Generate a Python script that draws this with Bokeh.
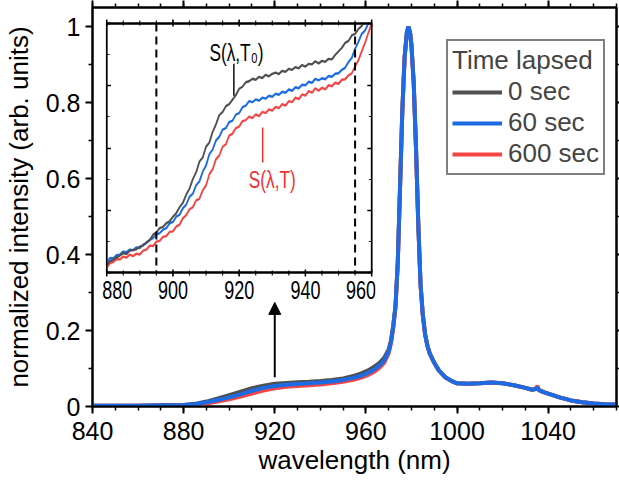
from bokeh.plotting import figure
from bokeh.models import (Range1d, LinearAxis, FixedTicker, Span, Arrow, NormalHead,
                          Legend, LegendItem, ColumnDataSource, CustomLabelingPolicy)
from bokeh.embed import file_html
from bokeh.resources import INLINE
from bokeh.core.properties import value

# ---------------- data ----------------
main_wl = [840, 850, 860, 870, 880, 885, 890, 895, 900, 905, 910, 915, 920, 925, 930,
           935, 940, 945, 950, 955, 958, 961, 964, 966, 968, 970, 971, 972, 973, 974,
           975, 976, 977, 978, 978.7, 979.5, 980, 981, 982, 983, 984, 985, 986, 987, 988,
           990, 992, 995, 998, 1000, 1005, 1010, 1015, 1020, 1025, 1030, 1033, 1034.5,
           1035.3, 1036, 1038, 1040, 1045, 1050, 1055, 1060, 1065, 1070]

main_0s = [.002, .002, .002, .003, .004, .007, .013, .021, .030, .039, .048, .055, .060, .062, .064,
           .065, .067, .070, .074, .081, .087, .095, .106, .115, .128, .150, .174, .213, .265, .380,
           .580, .780, .920, .985, 1.0, .980, .950, .850, .680, .480, .320, .240, .190, .160, .140,
           .115, .095, .076, .066, .061, .060, .061, .063, .061, .056, .049, .044, .046,
           .050, .043, .038, .034, .024, .016, .011, .008, .006, .005]

main_60s = [.002, .002, .002, .003, .004, .006, .011, .017, .024, .032, .041, .049, .054, .057, .059,
            .061, .063, .066, .070, .076, .081, .089, .099, .108, .121, .145, .170, .210, .265, .380,
            .580, .780, .920, .985, 1.0, .980, .950, .850, .680, .480, .320, .240, .190, .160, .140,
            .115, .095, .076, .066, .061, .060, .061, .063, .061, .056, .049, .044, .046,
            .050, .043, .038, .034, .024, .016, .011, .008, .006, .005]

main_600s = [.002, .002, .002, .003, .004, .004, .008, .013, .019, .026, .034, .042, .048, .052, .054,
             .056, .058, .061, .065, .071, .076, .083, .093, .102, .115, .140, .166, .206, .262, .378,
             .578, .778, .918, .984, 1.0, .980, .950, .850, .680, .480, .320, .240, .190, .160, .140,
             .115, .095, .076, .066, .061, .060, .061, .063, .061, .056, .049, .044, .047,
             .054, .043, .038, .034, .024, .016, .011, .008, .006, .005]

inset_wl = list(range(880, 961))

inset_0s = [.030, .046, .052, .061, .068, .078, .074, .088, .090, .093,
            .104, .108, .121, .130, .152, .161, .178, .183, .198, .205,
            .224, .238, .262, .280, .312, .336, .375, .402, .445, .462,
            .505, .522, .565, .595, .632, .645, .668, .676, .694, .712,
            .738, .746, .764, .768, .778, .774, .786, .781, .794, .788,
            .798, .803, .797, .810, .806, .818, .814, .825, .820, .833,
            .827, .838, .836, .848, .840, .850, .846, .858, .856, .874,
            .888, .902, .922, .930, .952, .958, .978, .990, 1.010, 1.030, 1.050]

inset_60s = [.042, .058, .056, .070, .072, .084, .082, .092, .090, .101,
             .098, .112, .118, .131, .138, .152, .158, .172, .178, .197,
             .203, .224, .232, .258, .272, .304, .316, .350, .366, .405,
             .430, .475, .494, .530, .545, .574, .580, .604, .610, .634,
             .640, .664, .670, .688, .684, .695, .690, .702, .698, .710,
             .706, .718, .714, .726, .722, .735, .730, .744, .740, .754,
             .752, .766, .762, .778, .772, .780, .776, .789, .786, .798,
             .800, .814, .822, .845, .862, .898, .926, .958, .972, 1.000, 1.020]

inset_600s = [.018, .038, .042, .054, .052, .064, .060, .072, .066, .076,
              .072, .088, .092, .108, .106, .124, .127, .143, .146, .163,
              .165, .184, .192, .218, .230, .254, .262, .290, .296, .330,
              .350, .394, .415, .455, .470, .505, .515, .550, .558, .580,
              .586, .608, .612, .626, .620, .635, .628, .645, .640, .655,
              .650, .665, .660, .676, .670, .688, .684, .702, .696, .715,
              .710, .728, .722, .740, .730, .742, .735, .752, .748, .762,
              .758, .774, .776, .792, .800, .828, .852, .888, .922, .962, 1.000]

series_labels = ["0 sec", "60 sec", "600 sec"]
colors = ["#505050", "#1d6be3", "#f54444"]

x_ticks = [840, 880, 920, 960, 1000, 1040]
x_minor = list(range(840, 1071, 10))
y_ticks = [0, 0.2, 0.4, 0.6, 0.8, 1.0]
y_tick_labels = ["0", "0.2", "0.4", "0.6", "0.8", "1"]
y_minor = [0.1, 0.3, 0.5, 0.7, 0.9]

inset_x_ticks = [880, 900, 920, 940, 960]
inset_x_minor = list(range(880, 961, 5))
inset_y_ticks = [0, 0.25, 0.5, 0.75, 1.0]
inset_y_minor = [0.125, 0.375, 0.625, 0.875]
inset_marks = [895, 955]

arrow_x = 920
arrow_y = [0.077, 0.274]

FONT = "Liberation Sans"
SX = 0.72  # horizontal squeeze of the inset (as in the reference)

no_labels = CustomLabelingPolicy(code="""
    for (const i of indices) { indices.unset(i) }
    return indices
""")

# ---------------- main figure ----------------
p = figure(width=619, height=483, x_range=Range1d(840, 1070), y_range=Range1d(0, 1.05),
           output_backend="svg", toolbar_location=None,
           min_border_left=87, min_border_right=3, min_border_top=7, min_border_bottom=77)
p.grid.visible = False
p.outline_line_color = "black"
p.outline_line_width = 2

src = ColumnDataSource(dict(x=main_wl, s0=main_0s, s60=main_60s, s600=main_600s))
r0 = p.line("x", "s0", source=src, line_color=colors[0], line_width=4)
r600 = p.line("x", "s600", source=src, line_color=colors[2], line_width=4)
r60 = p.line("x", "s60", source=src, line_color=colors[1], line_width=4)

def style_axis(ax, show_labels=True, tick_out=7):
    ax.axis_line_width = 2
    ax.major_tick_line_width = 2
    ax.minor_tick_line_width = 1.5
    ax.major_tick_out = tick_out
    ax.major_tick_in = 0
    ax.minor_tick_out = min(4, tick_out)
    ax.minor_tick_in = 0
    ax.major_label_text_font = FONT
    ax.major_label_text_color = "black"
    ax.axis_label_text_font = FONT
    ax.axis_label_text_font_style = "normal"
    ax.axis_label_text_font_size = "26px"
    ax.axis_label_text_color = "black"
    if show_labels:
        ax.major_label_text_font_size = "25px"
    else:
        ax.major_label_text_font_size = "0px"
        ax.major_label_standoff = 0
        ax.major_label_policy = no_labels

xb = p.xaxis[0]
xb.ticker = FixedTicker(ticks=x_ticks, minor_ticks=x_minor)
style_axis(xb)
xb.major_label_standoff = 8
xb.axis_label = "wavelength (nm)"
xb.axis_label_standoff = 2

yl = p.yaxis[0]
yl.ticker = FixedTicker(ticks=y_ticks, minor_ticks=y_minor)
yl.major_label_overrides = {t: s for t, s in zip(y_ticks, y_tick_labels)}
style_axis(yl)
yl.major_label_standoff = 5
yl.axis_label = "normalized intensity (arb. units)"
yl.axis_label_standoff = 9

xt = LinearAxis(ticker=FixedTicker(ticks=x_ticks, minor_ticks=x_minor))
style_axis(xt, show_labels=False)
p.add_layout(xt, "above")
yr = LinearAxis(ticker=FixedTicker(ticks=y_ticks, minor_ticks=y_minor))
style_axis(yr, show_labels=False, tick_out=3)
p.add_layout(yr, "right")

p.add_layout(Arrow(x_start=arrow_x, y_start=arrow_y[0], x_end=arrow_x, y_end=arrow_y[1],
                   line_width=2, line_color="black",
                   end=NormalHead(size=12, fill_color="black", line_color="black")))

legend = Legend(items=[LegendItem(label=series_labels[0], renderers=[r0]),
                       LegendItem(label=series_labels[1], renderers=[r60]),
                       LegendItem(label=series_labels[2], renderers=[r600])],
                location=(354, 231), title="Time lapsed")
legend.title_text_font = FONT
legend.title_text_font_size = "26px"
legend.title_text_font_style = "normal"
legend.title_standoff = 0
legend.label_text_font = FONT
legend.label_text_font_size = "26px"
legend.glyph_width = 50
legend.glyph_height = 28
legend.label_height = 28
legend.label_standoff = 6
legend.spacing = 0
legend.padding = 4
legend.margin = 0
legend.border_line_color = "black"
legend.border_line_width = 2
legend.background_fill_color = "white"
legend.background_fill_alpha = 1
p.add_layout(legend)

# ---------------- inset figure ----------------
IB_L, IB_R, IB_T, IB_B = 6, 6, 6, 38
frame_w = round(265 / SX)
frame_h = 249
ins_w = frame_w + IB_L + IB_R
ins_h = frame_h + IB_T + IB_B
ins = figure(width=ins_w, height=ins_h,
             x_range=Range1d(880, 960), y_range=Range1d(0, 1),
             output_backend="svg", toolbar_location=None,
             min_border_left=IB_L, min_border_right=IB_R, min_border_top=IB_T, min_border_bottom=IB_B)
ins.grid.visible = False
ins.outline_line_color = "black"
ins.outline_line_width = 2
ins.background_fill_color = "white"
ins.border_fill_alpha = 0

isrc = ColumnDataSource(dict(x=inset_wl, s0=inset_0s, s60=inset_60s, s600=inset_600s))
ins.line("x", "s600", source=isrc, line_color=colors[2], line_width=2.4)
ins.line("x", "s60", source=isrc, line_color=colors[1], line_width=2.4)
ins.line("x", "s0", source=isrc, line_color=colors[0], line_width=2.4)

for m in inset_marks:
    ins.add_layout(Span(location=m, dimension="height", line_color="black",
                        line_width=2.8, line_dash="8 5"))

def style_inset_axis(ax, horizontal, show_labels=False):
    ax.axis_line_width = 2
    if horizontal:
        ax.major_tick_line_width = 2
        ax.minor_tick_line_width = 1.5
        ax.major_tick_in = 3
        ax.major_tick_out = 4
        ax.minor_tick_in = 2
        ax.minor_tick_out = 3
    else:
        ax.major_tick_line_width = 1.5
        ax.minor_tick_line_width = 1
        ax.major_tick_in = 6
        ax.major_tick_out = 0
        ax.minor_tick_in = 4
        ax.minor_tick_out = 0
    ax.major_label_text_font = FONT
    ax.major_label_text_color = "black"
    if show_labels:
        ax.major_label_text_font_size = "25px"
        ax.major_label_standoff = 5
    else:
        ax.major_label_text_font_size = "0px"
        ax.major_label_standoff = 0
        ax.major_label_policy = no_labels

ib = ins.xaxis[0]
ib.ticker = FixedTicker(ticks=inset_x_ticks, minor_ticks=inset_x_minor)
style_inset_axis(ib, True, show_labels=True)
il = ins.yaxis[0]
il.ticker = FixedTicker(ticks=inset_y_ticks, minor_ticks=inset_y_minor)
style_inset_axis(il, False)
it = LinearAxis(ticker=FixedTicker(ticks=inset_x_ticks, minor_ticks=inset_x_minor))
style_inset_axis(it, True)
ins.add_layout(it, "above")
ir = LinearAxis(ticker=FixedTicker(ticks=inset_y_ticks, minor_ticks=inset_y_minor))
style_inset_axis(ir, False)
ins.add_layout(ir, "right")

# annotations S(λ,T0) and S(λ,T)
ins.text(x=[919.2], y=[0.884], text=["S(λ,T₀)"], text_font=value(FONT),
         text_font_size="24px", text_color="black", text_align="center", text_baseline="middle")
ins.segment(x0=[918.4], y0=[0.838], x1=[918.4], y1=[0.71], line_color="black", line_width=2)
ins.text(x=[930.0], y=[0.372], text=["S(λ,T)"], text_font=value(FONT),
         text_font_size="24px", text_color="#f03030", text_align="center", text_baseline="middle")
ins.segment(x0=[927.1], y0=[0.582], x1=[927.1], y1=[0.442], line_color="#f03030", line_width=2)

# place the inset over the main frame (squeezed horizontally like the reference).
# Bokeh sizes the canvas from the transformed box, so the CSS width is ins_w / SX.
ins_left = 106.7 - SX * IB_L
ins_top = 22.7 - IB_T
ins.styles = {"position": "absolute", "left": f"{ins_left:.1f}px", "top": f"{ins_top:.1f}px",
              "width": f"{ins_w / SX:.1f}px", "height": f"{ins_h}px",
              "transform": f"scaleX({SX})", "transform-origin": "0 0", "z-index": "5"}

open("out.html", "w").write(file_html([p, ins], INLINE))
